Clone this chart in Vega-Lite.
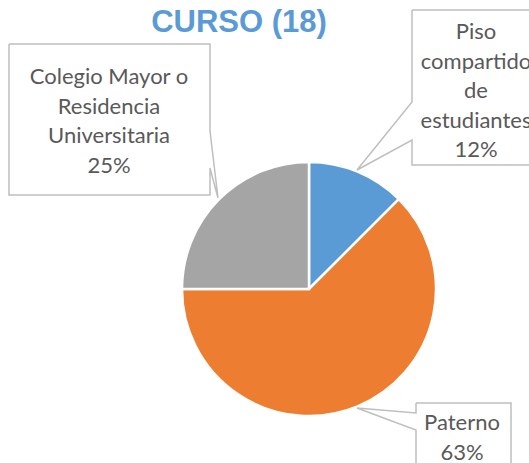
{
  "$schema": "https://vega.github.io/schema/vega-lite/v6.json",
  "width": 529,
  "height": 463,
  "padding": 0,
  "autosize": "none",
  "config": {"view": {"stroke": null}},
  "datasets": {
    "slices": [
      {"categoria": "Piso compartido de estudiantes", "valor": 12.5, "orden": 1},
      {"categoria": "Paterno", "valor": 62.5, "orden": 2},
      {"categoria": "Colegio Mayor o Residencia Universitaria", "valor": 25, "orden": 3}
    ],
    "callouts": [
      {"c": "Colegio", "i": 1, "x": 9, "y": 44},
      {"c": "Colegio", "i": 2, "x": 210, "y": 44},
      {"c": "Colegio", "i": 3, "x": 210, "y": 131},
      {"c": "Colegio", "i": 4, "x": 218, "y": 198},
      {"c": "Colegio", "i": 5, "x": 210, "y": 168},
      {"c": "Colegio", "i": 6, "x": 210, "y": 195},
      {"c": "Colegio", "i": 7, "x": 9, "y": 195},
      {"c": "Colegio", "i": 8, "x": 9, "y": 44},
      {"c": "Piso", "i": 1, "x": 412, "y": 10},
      {"c": "Piso", "i": 2, "x": 545, "y": 10},
      {"c": "Piso", "i": 3, "x": 545, "y": 165},
      {"c": "Piso", "i": 4, "x": 412, "y": 165},
      {"c": "Piso", "i": 5, "x": 412, "y": 140},
      {"c": "Piso", "i": 6, "x": 357, "y": 170},
      {"c": "Piso", "i": 7, "x": 412, "y": 102},
      {"c": "Piso", "i": 8, "x": 412, "y": 10},
      {"c": "Paterno", "i": 1, "x": 416, "y": 403},
      {"c": "Paterno", "i": 2, "x": 511, "y": 403},
      {"c": "Paterno", "i": 3, "x": 511, "y": 480},
      {"c": "Paterno", "i": 4, "x": 416, "y": 480},
      {"c": "Paterno", "i": 5, "x": 416, "y": 430},
      {"c": "Paterno", "i": 6, "x": 357, "y": 408},
      {"c": "Paterno", "i": 7, "x": 416, "y": 413},
      {"c": "Paterno", "i": 8, "x": 416, "y": 403}
    ],
    "labels": [
      {"texto": "Colegio Mayor o\nResidencia\nUniversitaria\n25%", "x": 109, "y": 77},
      {"texto": "Piso\ncompartido\nde\nestudiantes\n12%", "x": 476, "y": 32},
      {"texto": "Paterno\n63%", "x": 462, "y": 423}
    ]
  },
  "layer": [
    {
      "data": {"name": "slices"},
      "mark": {"type": "arc", "radius": 127, "stroke": "white", "strokeWidth": 2.5},
      "encoding": {
        "x": {"datum": 309, "type": "quantitative", "scale": {"domain": [0, 529], "nice": false, "zero": false}, "axis": null},
        "y": {"datum": 289, "type": "quantitative", "scale": {"domain": [0, 463], "nice": false, "zero": false, "reverse": true}, "axis": null},
        "theta": {"field": "valor", "type": "quantitative", "stack": true},
        "order": {"field": "orden", "type": "quantitative"},
        "color": {
          "field": "categoria",
          "type": "nominal",
          "scale": {
            "domain": ["Piso compartido de estudiantes", "Paterno", "Colegio Mayor o Residencia Universitaria"],
            "range": ["#5B9BD5", "#ED7D31", "#A5A5A5"]
          },
          "legend": null
        }
      }
    },
    {
      "data": {"name": "callouts"},
      "mark": {"type": "line", "color": "#BFBFBF", "strokeWidth": 1.5, "strokeJoin": "miter"},
      "encoding": {
        "x": {"field": "x", "type": "quantitative"},
        "y": {"field": "y", "type": "quantitative"},
        "detail": {"field": "c"},
        "order": {"field": "i", "type": "quantitative"}
      }
    },
    {
      "data": {"name": "labels"},
      "mark": {"type": "text", "font": "Lato", "fontSize": 22, "color": "#595959", "lineBreak": "\n", "lineHeight": 29.5, "align": "center", "baseline": "middle"},
      "encoding": {
        "x": {"field": "x", "type": "quantitative"},
        "y": {"field": "y", "type": "quantitative"},
        "text": {"field": "texto"}
      }
    },
    {
      "data": {"values": [{"titulo": "CURSO (18)", "x": 239, "y": 32}]},
      "mark": {"type": "text", "font": "Liberation Sans", "fontSize": 31, "fontWeight": "bold", "color": "#5B9BD5", "align": "center", "baseline": "alphabetic"},
      "encoding": {
        "x": {"field": "x", "type": "quantitative"},
        "y": {"field": "y", "type": "quantitative"},
        "text": {"field": "titulo"}
      }
    }
  ]
}
